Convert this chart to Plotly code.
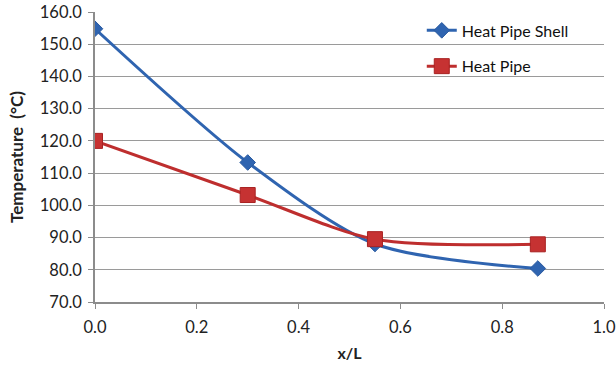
import plotly.graph_objects as go

x_shell = [0.0, 0.30, 0.55, 0.87]
t_shell = [154.8, 113.3, 88.0, 80.4]
x_pipe = [0.0, 0.30, 0.55, 0.87]
t_pipe = [120.0, 103.2, 89.5, 87.9]

font_fam = "Lato, 'Open Sans', sans-serif"

fig = go.Figure()
fig.add_trace(go.Scatter(
    x=x_shell, y=t_shell, name="Heat Pipe Shell", mode="lines+markers",
    legendgroup="a",
    line=dict(color="#2F64B0", width=3, shape="spline", smoothing=0.8),
    marker=dict(symbol="diamond", size=12, color="#2F64B0", line=dict(color="#2A5AA0", width=1)),
))
fig.add_trace(go.Scatter(
    x=x_pipe, y=t_pipe, name="Heat Pipe", mode="lines+markers",
    legendgroup="b",
    line=dict(color="#BE2E2E", width=3, shape="spline", smoothing=0.8),
    marker=dict(symbol="square", size=15, color="#C63232", line=dict(color="#A82222", width=1)),
))

fig.update_layout(
    width=616, height=367,
    margin=dict(l=95, r=12, t=12, b=65, autoexpand=False),
    paper_bgcolor="white", plot_bgcolor="white",
    font=dict(family=font_fam, size=16, color="#222"),
    showlegend=True,
    legend=dict(x=0.642, y=0.995, xanchor="left", yanchor="top",
                bgcolor="rgba(0,0,0,0)", font=dict(size=16, color="#111"),
                tracegroupgap=12, itemwidth=30),
    xaxis=dict(range=[0, 1.0], dtick=0.2, tickformat=".1f", showgrid=False,
               showline=True, linecolor="#8c8c8c", linewidth=1.5,
               ticks="outside", ticklen=5, tickcolor="#8c8c8c",
               tickfont=dict(size=16.5), ticklabelstandoff=4,
               title=dict(text="<b>x/L</b>", font=dict(size=16), standoff=12),
               zeroline=False, automargin=False),
    yaxis=dict(range=[70, 160], dtick=10, tickformat=".1f", showgrid=True,
               gridcolor="#9a9a9a", gridwidth=1,
               showline=True, linecolor="#8c8c8c", linewidth=1.5,
               ticks="outside", ticklen=5, tickcolor="#8c8c8c",
               tickfont=dict(size=16.5), ticklabelstandoff=3,
               title=dict(text="<b>Temperature\u00a0\u00a0(°C)</b>", font=dict(size=17), standoff=12),
               zeroline=False, automargin=False),
)
fig.write_html("out.html")
